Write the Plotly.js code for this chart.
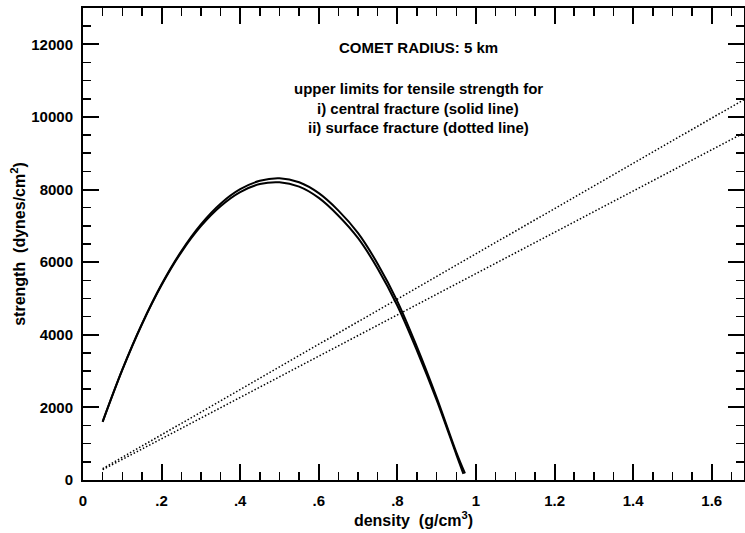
<!DOCTYPE html>
<html>
<head>
<meta charset="utf-8">
<script src="https://cdn.plot.ly/plotly-3.0.1.min.js"></script>
<style>
html,body{margin:0;padding:0;background:#fff;}
#chart{width:745px;height:533px;}
</style>
</head>
<body>
<div id="chart"></div>
<script>
// Central fracture (solid lines), two curves
const centralX1 = [0.05,0.10,0.15,0.20,0.25,0.30,0.35,0.40,0.45,0.50,0.55,0.60,0.65,0.70,0.75,0.80,0.85,0.90,0.95,0.972];
const centralY1 = [1610,3040,4300,5390,6300,7040,7610,8010,8240,8310,8200,7900,7420,6800,5950,4920,3660,2270,760,180];
const centralX2 = [0.05,0.10,0.15,0.20,0.25,0.30,0.35,0.40,0.45,0.50,0.55,0.60,0.65,0.70,0.75,0.80,0.85,0.90,0.95,0.968];
const centralY2 = [1600,3030,4290,5370,6270,6990,7540,7930,8150,8200,8080,7770,7280,6660,5820,4800,3560,2200,700,170];
// Surface fracture (dotted lines), two lines
const surfaceX1 = [0.05,1.70];
const surfaceY1 = [312,10590];
const surfaceX2 = [0.05,1.70];
const surfaceY2 = [284,9665];

const xTickVals = [0,0.2,0.4,0.6,0.8,1,1.2,1.4,1.6];
const xTickText = ['0','.2','.4','.6','.8','1','1.2','1.4','1.6'];
const yTickVals = [0,2000,4000,6000,8000,10000,12000];
const yTickText = ['0','2000','4000','6000','8000','10000','12000'];

const notes = [
  'COMET RADIUS: 5 km',
  'upper limits for tensile strength for',
  'i) central fracture (solid line)',
  'ii) surface fracture (dotted line)'
];
const noteY = [0.917,0.8305,0.788,0.746];

const FONT = 'Liberation Sans, Arial, Helvetica, sans-serif';

const solid = {color:'#000', width:2, shape:'spline'};
const dotted = {color:'#000', width:1.5, dash:'1.5px,2px'};

const traces = [
  {x:centralX1, y:centralY1, mode:'lines', line:solid, hoverinfo:'skip'},
  {x:centralX2, y:centralY2, mode:'lines', line:solid, hoverinfo:'skip'},
  {x:surfaceX1, y:surfaceY1, mode:'lines', line:dotted, hoverinfo:'skip'},
  {x:surfaceX2, y:surfaceY2, mode:'lines', line:dotted, hoverinfo:'skip'}
];

const axisCommon = {
  showline:true, linecolor:'#000', linewidth:2, mirror:'ticks',
  ticks:'inside', ticklen:16, tickwidth:2, tickcolor:'#000',
  showgrid:false, zeroline:false,
  tickfont:{family:FONT, size:15, color:'#000', weight:'bold'}
};

const layout = {
  width:745, height:533,
  margin:{l:83, r:1, t:8, b:53},
  paper_bgcolor:'#fff', plot_bgcolor:'#fff',
  showlegend:false,
  font:{family:FONT, color:'#000'},
  xaxis: Object.assign({}, axisCommon, {
    range:[0,1.682],
    tickmode:'array', tickvals:xTickVals, ticktext:xTickText,
    minor:{tickmode:'linear', tick0:0, dtick:0.05, ticks:'inside', ticklen:8, tickwidth:1.5, tickcolor:'#000'},
    ticklabelstandoff:6,
    title:{text:'density  (g/cm<sup>3</sup>)', font:{family:FONT, size:16, color:'#000', weight:'bold'}, standoff:5}
  }),
  yaxis: Object.assign({}, axisCommon, {
    range:[0,13000],
    tickmode:'array', tickvals:yTickVals, ticktext:yTickText,
    minor:{tickmode:'linear', tick0:0, dtick:500, ticks:'inside', ticklen:8, tickwidth:1.5, tickcolor:'#000'},
    ticklabelstandoff:5,
    title:{text:'strength  (dynes/cm<sup>2</sup>)', font:{family:FONT, size:16, color:'#000', weight:'bold'}, standoff:2}
  }),
  annotations: notes.map((t,i)=>({
    text:t, xref:'paper', yref:'paper', x:0.507, y:noteY[i],
    xanchor:'center', yanchor:'middle', showarrow:false,
    font:{family:FONT, size:15, color:'#000', weight:'bold'}
  }))
};

Plotly.newPlot('chart', traces, layout, {displayModeBar:false, staticPlot:true});
</script>
</body>
</html>
